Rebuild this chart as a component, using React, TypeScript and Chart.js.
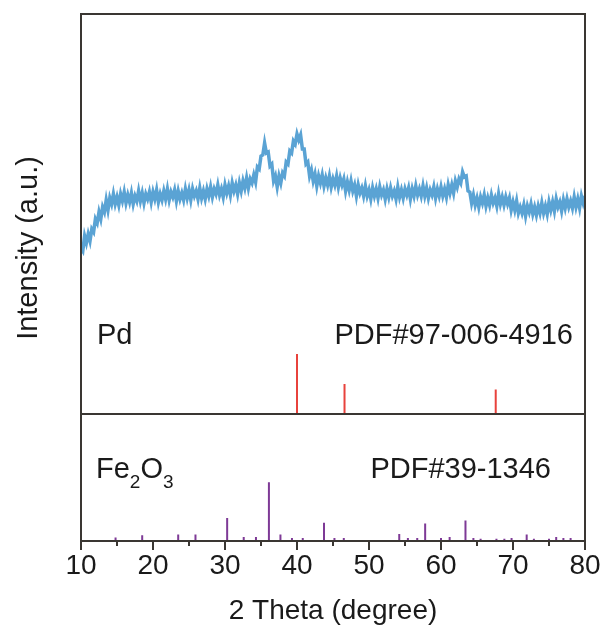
import React, { useEffect, useRef } from "react";
import { Chart, registerables } from "chart.js";

Chart.register(...registerables);

// 2 theta sampling (degree)
const THETA = [
  10, 10.25, 10.5, 10.75, 11, 11.25, 11.5, 11.75, 12, 12.25, 12.5, 12.75, 13, 13.25, 13.5, 13.75,
  14, 14.25, 14.5, 14.75, 15, 15.25, 15.5, 15.75, 16, 16.25, 16.5, 16.75, 17, 17.25, 17.5, 17.75,
  18, 18.25, 18.5, 18.75, 19, 19.25, 19.5, 19.75, 20, 20.25, 20.5, 20.75, 21, 21.25, 21.5, 21.75,
  22, 22.25, 22.5, 22.75, 23, 23.25, 23.5, 23.75, 24, 24.25, 24.5, 24.75, 25, 25.25, 25.5, 25.75,
  26, 26.25, 26.5, 26.75, 27, 27.25, 27.5, 27.75, 28, 28.25, 28.5, 28.75, 29, 29.25, 29.5, 29.75,
  30, 30.25, 30.5, 30.75, 31, 31.25, 31.5, 31.75, 32, 32.25, 32.5, 32.75, 33, 33.25, 33.5, 33.75,
  34, 34.25, 34.5, 34.75, 35, 35.25, 35.5, 35.75, 36, 36.25, 36.5, 36.75, 37, 37.25, 37.5, 37.75,
  38, 38.25, 38.5, 38.75, 39, 39.25, 39.5, 39.75, 40, 40.25, 40.5, 40.75, 41, 41.25, 41.5, 41.75,
  42, 42.25, 42.5, 42.75, 43, 43.25, 43.5, 43.75, 44, 44.25, 44.5, 44.75, 45, 45.25, 45.5, 45.75,
  46, 46.25, 46.5, 46.75, 47, 47.25, 47.5, 47.75, 48, 48.25, 48.5, 48.75, 49, 49.25, 49.5, 49.75,
  50, 50.25, 50.5, 50.75, 51, 51.25, 51.5, 51.75, 52, 52.25, 52.5, 52.75, 53, 53.25, 53.5, 53.75,
  54, 54.25, 54.5, 54.75, 55, 55.25, 55.5, 55.75, 56, 56.25, 56.5, 56.75, 57, 57.25, 57.5, 57.75,
  58, 58.25, 58.5, 58.75, 59, 59.25, 59.5, 59.75, 60, 60.25, 60.5, 60.75, 61, 61.25, 61.5, 61.75,
  62, 62.25, 62.5, 62.75, 63, 63.25, 63.5, 63.75, 64, 64.25, 64.5, 64.75, 65, 65.25, 65.5, 65.75,
  66, 66.25, 66.5, 66.75, 67, 67.25, 67.5, 67.75, 68, 68.25, 68.5, 68.75, 69, 69.25, 69.5, 69.75,
  70, 70.25, 70.5, 70.75, 71, 71.25, 71.5, 71.75, 72, 72.25, 72.5, 72.75, 73, 73.25, 73.5, 73.75,
  74, 74.25, 74.5, 74.75, 75, 75.25, 75.5, 75.75, 76, 76.25, 76.5, 76.75, 77, 77.25, 77.5, 77.75,
  78, 78.25, 78.5, 78.75, 79, 79.25, 79.5, 79.75, 80,
];

// measured sample intensity (a.u.)
const SAMPLE = [
  293, 290, 305, 298, 307, 300, 312, 309, 322, 318, 329, 322, 334, 329, 341, 331,
  343, 337, 347, 337, 344, 336, 347, 340, 349, 338, 346, 339, 348, 337, 345, 340,
  350, 340, 348, 338, 347, 342, 349, 339, 349, 342, 351, 339, 347, 341, 350, 342,
  352, 341, 349, 344, 351, 340, 350, 342, 348, 341, 352, 343, 351, 341, 352, 345,
  350, 342, 353, 343, 350, 342, 352, 345, 354, 344, 352, 347, 356, 346, 352, 344,
  356, 348, 355, 346, 358, 350, 356, 347, 358, 350, 360, 353, 363, 353, 362, 358,
  366, 359, 374, 372, 385, 386, 398, 388, 389, 375, 377, 360, 365, 354, 365, 358,
  368, 365, 379, 377, 390, 388, 400, 397, 407, 401, 406, 392, 392, 377, 379, 365,
  371, 360, 367, 355, 365, 358, 366, 355, 363, 356, 365, 354, 362, 356, 365, 354,
  363, 356, 362, 350, 359, 351, 360, 350, 356, 345, 356, 348, 353, 345, 355, 345,
  351, 342, 353, 345, 352, 343, 354, 346, 351, 342, 352, 344, 353, 345, 350, 342,
  354, 344, 351, 343, 352, 346, 353, 342, 352, 345, 355, 346, 352, 345, 355, 345,
  353, 343, 351, 346, 354, 343, 352, 345, 354, 345, 352, 344, 356, 348, 356, 348,
  360, 354, 362, 358, 369, 364, 365, 350, 349, 338, 346, 336, 343, 334, 344, 338,
  346, 335, 343, 336, 346, 338, 343, 335, 347, 337, 344, 336, 344, 337, 343, 331,
  339, 331, 340, 328, 334, 328, 336, 325, 335, 329, 337, 327, 334, 326, 335, 328,
  338, 328, 335, 327, 339, 331, 339, 330, 342, 334, 339, 330, 341, 333, 342, 334,
  340, 333, 344, 334, 342, 333, 345, 338, 345,
];

// Pd reference PDF#97-006-4916
const PD_POS = [40.0, 46.6, 67.6];
const PD_REL = [100, 50, 41];

// Fe2O3 reference PDF#39-1346
const FE_POS = [
  14.8, 18.5, 23.5, 25.9, 30.3, 32.6, 34.3, 36.1, 37.7, 39.3, 40.8, 43.75, 45.2, 46.5, 54.2, 55.4,
  56.7, 57.8, 60.0, 61.2, 63.4, 64.5, 65.5, 67.7, 68.8, 69.8, 71.9, 72.9, 75.0, 76.0, 77.0, 78.0,
];
const FE_REL = [
  6, 10, 11, 11, 39, 7, 7, 100, 11, 5, 5, 31, 5, 5, 12, 5,
  5, 30, 5, 7, 35, 5, 4, 4, 4, 5, 11, 4, 4, 7, 5, 5,
];

const X_MAJOR = [10, 20, 30, 40, 50, 60, 70, 80];
const X_MINOR = [15, 25, 35, 45, 55, 65, 75];

const FONT = '"Liberation Sans", Arial, Helvetica, sans-serif';
const AXIS_COLOR = "#3a3632";

// layout (stacking offsets of reference panels in axis units)
const PD_BASE = 127;
const PD_SCALE = 0.6;
const FE_BASE = 0;
const FE_SCALE = 0.587;

function sticks(pos: number[], rel: number[], base: number, scale: number) {
  const out: any[] = [];
  pos.forEach((p, i) => {
    out.push({ x: p, y: base });
    out.push({ x: p, y: base + rel[i] * scale });
    out.push({ x: p, y: null });
  });
  return out;
}

const decorPlugin = {
  id: "decor",
  afterDraw(chart: any) {
    const ctx = chart.ctx;
    const { left, right, top, bottom } = chart.chartArea;
    const xs = chart.scales.x;
    const ys = chart.scales.y;
    ctx.save();
    ctx.strokeStyle = AXIS_COLOR;
    ctx.lineWidth = 2;
    ctx.strokeRect(left, top, right - left, bottom - top);
    // separator between panels
    const sy = ys.getPixelForValue(PD_BASE);
    ctx.beginPath();
    ctx.moveTo(left, sy);
    ctx.lineTo(right, sy);
    ctx.stroke();
    // ticks
    ctx.beginPath();
    X_MAJOR.forEach((v) => {
      const x = xs.getPixelForValue(v);
      ctx.moveTo(x, bottom);
      ctx.lineTo(x, bottom + 9);
    });
    X_MINOR.forEach((v) => {
      const x = xs.getPixelForValue(v);
      ctx.moveTo(x, bottom);
      ctx.lineTo(x, bottom + 5);
    });
    ctx.stroke();
    // tick labels
    ctx.fillStyle = "#1a1a1a";
    ctx.font = `28px ${FONT}`;
    ctx.textAlign = "center";
    ctx.textBaseline = "alphabetic";
    X_MAJOR.forEach((v) => {
      ctx.fillText(String(v), xs.getPixelForValue(v), bottom + 33);
    });
    // x title
    ctx.fillText("2 Theta (degree)", (left + right) / 2, bottom + 78);
    // y title
    ctx.save();
    ctx.translate(left - 44, 248);
    ctx.rotate(-Math.PI / 2);
    ctx.font = `29px ${FONT}`;
    ctx.fillText("Intensity (a.u.)", 0, 0);
    ctx.restore();
    // panel labels
    ctx.font = `29px ${FONT}`;
    ctx.textAlign = "left";
    ctx.fillText("Pd", left + 16, 344);
    ctx.textAlign = "right";
    ctx.fillText("PDF#97-006-4916", right - 12, 344);
    ctx.fillText("PDF#39-1346", right - 34, 478);
    ctx.textAlign = "left";
    let fx = left + 15;
    const parts: [string, boolean][] = [["Fe", false], ["2", true], ["O", false], ["3", true]];
    parts.forEach(([t, sub]) => {
      ctx.font = sub ? `19px ${FONT}` : `29px ${FONT}`;
      ctx.fillText(t, fx, sub ? 488 : 478);
      fx += ctx.measureText(t).width;
    });
    ctx.restore();
  },
};

export default function App() {
  const ref = useRef<HTMLCanvasElement | null>(null);
  useEffect(() => {
    if (!ref.current) return;
    const chart = new Chart(ref.current, {
      type: "line",
      data: {
        datasets: [
          {
            label: "Sample",
            data: THETA.map((t, i) => ({ x: t, y: SAMPLE[i] })),
            borderColor: "#5aa3d4",
            borderWidth: 3.5,
            pointRadius: 0,
            tension: 0,
          },
          {
            label: "Pd",
            data: sticks(PD_POS, PD_REL, PD_BASE, PD_SCALE),
            borderColor: "#e8423c",
            borderWidth: 2,
            pointRadius: 0,
            spanGaps: false,
          },
          {
            label: "Fe2O3",
            data: sticks(FE_POS, FE_REL, FE_BASE, FE_SCALE),
            borderColor: "#7e3a96",
            borderWidth: 2,
            pointRadius: 0,
            spanGaps: false,
          },
        ],
      },
      options: {
        animation: false,
        responsive: false,
        events: [],
        layout: { padding: { top: 14, right: 19, left: 0, bottom: 0 } },
        plugins: { legend: { display: false }, tooltip: { enabled: false } },
        scales: {
          x: {
            type: "linear",
            min: 10,
            max: 80,
            ticks: { display: false },
            grid: { display: false },
            border: { display: false },
            afterFit: (s: any) => {
              s.height = 87;
            },
          },
          y: {
            type: "linear",
            min: 0,
            max: 527,
            ticks: { display: false },
            grid: { display: false },
            border: { display: false },
            afterFit: (s: any) => {
              s.width = 81;
            },
          },
        },
      },
      plugins: [decorPlugin],
    });
    return () => chart.destroy();
  }, []);
  return (
    <div style={{ position: "fixed", left: 0, top: 0, width: 604, height: 628, background: "#fff" }}>
      <canvas ref={ref} width={604} height={628} style={{ display: "block" }} />
    </div>
  );
}
